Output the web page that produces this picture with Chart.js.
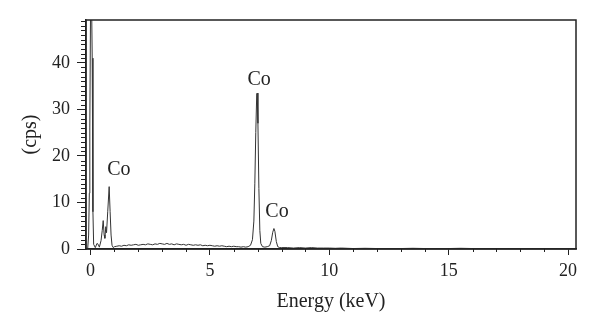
<!DOCTYPE html>
<html>
<head>
<meta charset="utf-8">
<script src="https://cdn.jsdelivr.net/npm/chart.js@4/dist/chart.umd.min.js"></script>
<style>
  html, body { margin: 0; padding: 0; background: #fff; }
  #wrap { width: 600px; height: 335px; }
</style>
</head>
<body>
<div id="wrap"><canvas id="eds"></canvas></div>
<script>
// spectrum (keV / cps)
const energy = [
  -0.19, -0.12, -0.08, -0.05, -0.03, 0.01, 0.04, 0.07, 0.1, 0.13, 0.2, 0.27, 0.32, 0.37,
  0.44, 0.49, 0.53, 0.57, 0.6, 0.64, 0.67, 0.72, 0.78, 0.82, 0.86, 0.9, 0.95,
  1.0, 1.1, 1.2, 1.3, 1.4, 1.5, 1.6, 1.7, 1.8, 1.9, 2.0, 2.1, 2.2, 2.3, 2.4, 2.5, 2.6, 2.7, 2.8, 2.9,
  3.0, 3.1, 3.2, 3.3, 3.4, 3.5, 3.6, 3.7, 3.8, 3.9, 4.0, 4.1, 4.2, 4.3, 4.4, 4.5, 4.6, 4.7, 4.8, 4.9,
  5.0, 5.1, 5.2, 5.3, 5.4, 5.5, 5.6, 5.7, 5.8, 5.9, 6.0, 6.1, 6.2, 6.3, 6.4, 6.5, 6.6,
  6.7, 6.78, 6.84, 6.88, 6.92, 6.96, 6.98, 7.01, 7.05, 7.09, 7.13, 7.2, 7.3, 7.4, 7.5,
  7.57, 7.63, 7.68, 7.72, 7.78, 7.84, 7.92, 8.0,
  8.25, 8.5, 8.75, 9.0, 9.25, 9.5, 9.75, 10.0, 10.25, 10.5, 10.75, 11.0, 11.5, 12.0, 12.5,
  13.0, 13.5, 14.0, 14.5, 15.0, 15.5, 16.0, 16.5, 17.0, 17.5, 18.0, 18.5, 19.0, 19.5, 20.0, 20.33
];
const counts = [
  0, 0, 3, 12, 26, 60, 55, 41, 8, 1, 0.3, 1.2, 1.0, 0.4,
  1.8, 4, 6.1, 3, 2.3, 4.8, 3.5, 8, 13.4, 8, 3, 0.8, 0.3,
  0.5, 0.6, 0.7, 0.6, 0.8, 0.7, 0.9, 0.8, 0.9, 1.0, 0.8, 0.9, 1.0, 0.9, 1.1, 1.0, 0.9, 1.1, 1.0, 1.2,
  1.1, 1.0, 1.2, 1.0, 1.1, 0.9, 1.1, 1.0, 0.9, 1.0, 0.8, 1.0, 0.9, 0.8, 0.9, 0.8, 0.9, 0.7, 0.8, 0.7,
  0.8, 0.7, 0.6, 0.7, 0.6, 0.7, 0.6, 0.5, 0.6, 0.5, 0.6, 0.5, 0.5, 0.4, 0.5, 0.4, 0.5,
  0.8, 2, 6, 14, 25, 33.3, 33.5, 27, 13, 4, 1.2, 0.5, 0.4, 0.5, 0.7,
  1.8, 3.6, 4.4, 3.8, 1.6, 0.5, 0.3, 0.3,
  0.3, 0.2, 0.3, 0.2, 0.3, 0.2, 0.2, 0.2, 0.15, 0.2, 0.15, 0.1, 0.15, 0.1, 0.1,
  0.1, 0.15, 0.1, 0.1, 0.1, 0.15, 0.1, 0.1, 0.1, 0.1, 0.1, 0.1, 0.1, 0.1, 0.1, 0.1
];

// peak labels
const peakNames = ['Co', 'Co', 'Co'];
const peakLabelX = [1.19, 7.06, 7.81];
const peakLabelY = [17.0, 36.3, 8.0];

const xMajor = [0, 5, 10, 15, 20];
const yMajor = [0, 10, 20, 30, 40];

const serif = '"Liberation Serif", "Times New Roman", serif';
const ink = '#222';

// 枠線 + 副目盛り + ラベル
const decorPlugin = {
  id: 'decor',
  afterDraw(chart) {
    const { ctx, chartArea: a } = chart;
    const xs = chart.scales.x, ys = chart.scales.y;
    ctx.save();
    ctx.strokeStyle = ink;
    ctx.lineWidth = 1.5;
    ctx.strokeRect(a.left, a.top, a.right - a.left, a.bottom - a.top);

    // minor ticks
    ctx.lineWidth = 1;
    ctx.beginPath();
    xs.ticks.forEach(t => {
      if (xMajor.includes(t.value)) return;
      const px = Math.round(xs.getPixelForValue(t.value)) + 0.5;
      ctx.moveTo(px, a.bottom);
      ctx.lineTo(px, a.bottom + 3);
    });
    ys.ticks.forEach(t => {
      if (yMajor.includes(t.value)) return;
      const py = Math.round(ys.getPixelForValue(t.value)) + 0.5;
      ctx.moveTo(a.left, py);
      ctx.lineTo(a.left - 5, py);
    });
    ctx.stroke();

    // Co labels
    ctx.fillStyle = ink;
    ctx.font = '20px ' + serif;
    ctx.textAlign = 'center';
    ctx.textBaseline = 'middle';
    peakNames.forEach((name, i) => {
      ctx.fillText(name, xs.getPixelForValue(peakLabelX[i]), ys.getPixelForValue(peakLabelY[i]));
    });
    ctx.restore();
  }
};

function majorTick(list) {
  return (c) => (c.tick && list.includes(c.tick.value)) ? ink : 'rgba(0,0,0,0)';
}

new Chart(document.getElementById('eds'), {
  type: 'line',
  data: {
    datasets: [{
      data: energy.map((e, i) => ({ x: e, y: counts[i] })),
      borderColor: '#333',
      borderWidth: 1,
      pointRadius: 0,
      tension: 0,
      fill: false
    }]
  },
  options: {
    responsive: true,
    maintainAspectRatio: false,
    animation: false,
    layout: { padding: { top: 20, right: 24, left: 0, bottom: 0 } },
    plugins: { legend: { display: false }, tooltip: { enabled: false } },
    scales: {
      x: {
        type: 'linear',
        min: -0.19, max: 20.33,
        afterFit: (s) => { s.height = 86; },
        border: { display: true, color: ink, width: 1.5 },
        grid: { drawOnChartArea: false, tickLength: 6, tickColor: majorTick(xMajor) },
        ticks: {
          stepSize: 1, autoSkip: false, includeBounds: false, maxRotation: 0,
          padding: 5, color: ink, font: { family: serif, size: 18 },
          callback: (v) => xMajor.includes(v) ? v : ''
        },
        title: {
          display: true, text: 'Energy (keV)', color: ink,
          font: { family: serif, size: 20 }, padding: { top: 0, bottom: 21 }
        }
      },
      y: {
        min: 0, max: 49.2,
        afterFit: (s) => { s.width = 86; },
        border: { display: true, color: ink, width: 1.5 },
        grid: { drawOnChartArea: false, tickLength: 9, tickColor: majorTick(yMajor) },
        ticks: {
          stepSize: 1, autoSkip: false, includeBounds: false,
          padding: 7, color: ink, font: { family: serif, size: 18 },
          callback: (v) => yMajor.includes(v) ? v : ''
        },
        title: {
          display: true, text: '(cps)', color: ink,
          font: { family: serif, size: 20 }, padding: { top: 19, bottom: 0 }
        }
      }
    }
  },
  plugins: [decorPlugin]
});
</script>
</body>
</html>
